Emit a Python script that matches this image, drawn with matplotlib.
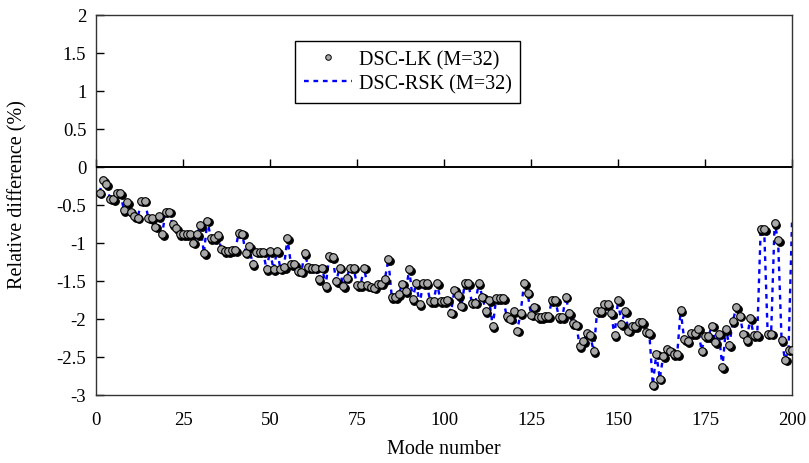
import numpy as np
import matplotlib
matplotlib.use("Agg")
import matplotlib.pyplot as plt
from matplotlib.transforms import offset_copy

plt.rcParams["font.family"] = ["Liberation Serif", "DejaVu Serif"]
plt.rcParams["axes.unicode_minus"] = False

# Relative difference (%) of each mode, modes 1..200
modes = np.arange(1, 201)

dsc_lk = [
    -0.34, -0.18, -0.23, -0.42, -0.43, -0.34, -0.35, -0.57, -0.47, -0.59,
    -0.65, -0.67, -0.45, -0.45, -0.67, -0.68, -0.79, -0.65, -0.89, -0.59,
    -0.59, -0.76, -0.81, -0.89, -0.89, -0.89, -0.89, -1.00, -0.89, -0.77,
    -1.14, -0.71, -0.94, -0.94, -0.90, -1.08, -1.11, -1.11, -1.10, -1.10,
    -0.87, -0.88, -1.13, -1.05, -1.28, -1.12, -1.12, -1.12, -1.35, -1.11,
    -1.35, -1.11, -1.34, -1.32, -0.94, -1.28, -1.28, -1.37, -1.38, -1.14,
    -1.32, -1.33, -1.33, -1.48, -1.33, -1.57, -1.18, -1.19, -1.51, -1.33,
    -1.57, -1.46, -1.33, -1.33, -1.56, -1.56, -1.33, -1.56, -1.58, -1.59,
    -1.54, -1.54, -1.48, -1.22, -1.72, -1.72, -1.68, -1.54, -1.64, -1.35,
    -1.74, -1.53, -1.81, -1.53, -1.53, -1.77, -1.77, -1.53, -1.77, -1.77,
    -1.75, -1.92, -1.62, -1.69, -1.83, -1.53, -1.53, -1.79, -1.79, -1.53,
    -1.71, -1.90, -1.76, -2.10, -1.73, -1.73, -1.73, -1.97, -2.00, -1.90,
    -2.16, -1.93, -1.53, -1.66, -1.95, -1.84, -1.98, -1.98, -1.97, -1.97,
    -1.76, -1.76, -1.98, -1.98, -1.71, -1.93, -2.06, -2.08, -2.36, -2.30,
    -2.19, -2.22, -2.43, -1.90, -1.90, -1.81, -1.81, -1.93, -2.22, -1.76,
    -2.07, -1.90, -2.16, -2.10, -2.10, -2.05, -2.05, -2.17, -2.19, -2.87,
    -2.46, -2.79, -2.49, -2.40, -2.42, -2.47, -2.47, -1.89, -2.27, -2.30,
    -2.19, -2.19, -2.13, -2.42, -2.23, -2.23, -2.09, -2.31, -2.20, -2.64,
    -2.14, -2.35, -2.03, -1.85, -1.96, -2.20, -2.28, -1.99, -2.22, -2.22,
    -0.82, -0.82, -2.20, -2.20, -0.74, -0.97, -2.28, -2.54, -2.41, -2.41,
]

dsc_rsk = list(dsc_lk)
dsc_rsk[17] = -0.80
dsc_rsk[199] = -0.72

x_ticks = [0, 25, 50, 75, 100, 125, 150, 175, 200]
y_ticks = [-3, -2.5, -2, -1.5, -1, -0.5, 0, 0.5, 1, 1.5, 2]
y_tick_labels = ["-3", "-2.5", "-2", "-1.5", "-1", "-0.5", "0", "0.5", "1", "1.5", "2"]

fig = plt.figure(figsize=(8.09, 4.64), dpi=100)
ax = fig.add_axes([0.1187, 0.1472, 0.8603, 0.8190])

ax.set_xlim(0, 200)
ax.set_ylim(-3, 2)

# RSK series as a blue dashed line
ax.plot(modes, dsc_rsk, linestyle=(0, (2, 2)), color="#0000ff", lw=1.7,
        zorder=2, label="DSC-RSK (M=32)")

# LK series as grey circles with a dark drop shadow
shadow = offset_copy(ax.transData, fig=fig, x=1.6, y=-1.6, units="dots")
ax.plot(modes, dsc_lk, linestyle="none", marker="o", ms=5.5,
        mfc="black", mec="black", mew=0.8, transform=shadow, zorder=3)
ax.plot(modes, dsc_lk, linestyle="none", marker="o", ms=5.5,
        mfc="#a8a8a8", mec="black", mew=0.8, zorder=4)

# zero line with upward tick marks
ax.axhline(0, color="black", lw=1.4, zorder=5)
sec = ax.secondary_xaxis(0, transform=ax.transData)
sec.set_xticks(x_ticks)
sec.tick_params(axis="x", direction="in", length=6, width=1,
                labelbottom=False, labeltop=False, bottom=True, top=False)
sec.spines["bottom"].set_visible(False)
sec.spines["top"].set_visible(False)

ax.set_xticks(x_ticks)
ax.set_xticklabels([str(t) for t in x_ticks])
ax.tick_params(axis="x", length=0, labelsize=13.5, pad=12)
ax.set_yticks(y_ticks)
ax.set_yticklabels(y_tick_labels)
ax.tick_params(axis="y", direction="in", length=6, width=1, labelsize=13.5, pad=7)

for s in ax.spines.values():
    s.set_linewidth(1.0)
    s.set_color("#333333")

ax.set_xlabel("Mode number", fontsize=14.5, labelpad=8)
ax.set_ylabel("Relative difference (%)", fontsize=14.5)
ax.yaxis.set_label_coords(-0.099, 0.528)

lk_handle = plt.Line2D([], [], linestyle="none", marker="o", ms=4,
                       mfc="#a8a8a8", mec="black", mew=0.7)
rsk_handle = plt.Line2D([], [], linestyle=(0, (2, 2)), color="#0000ff", lw=1.7)
leg = ax.legend([lk_handle, rsk_handle], ["DSC-LK (M=32)", "DSC-RSK (M=32)"],
                loc="upper left", bbox_to_anchor=(0.286, 0.931),
                borderaxespad=0, fancybox=False, edgecolor="black",
                framealpha=1, fontsize=14.5, handlelength=2.4,
                handletextpad=0.3, borderpad=0.45, labelspacing=0.25)
leg.get_frame().set_linewidth(1.0)

fig.savefig("out.png", dpi=100)
